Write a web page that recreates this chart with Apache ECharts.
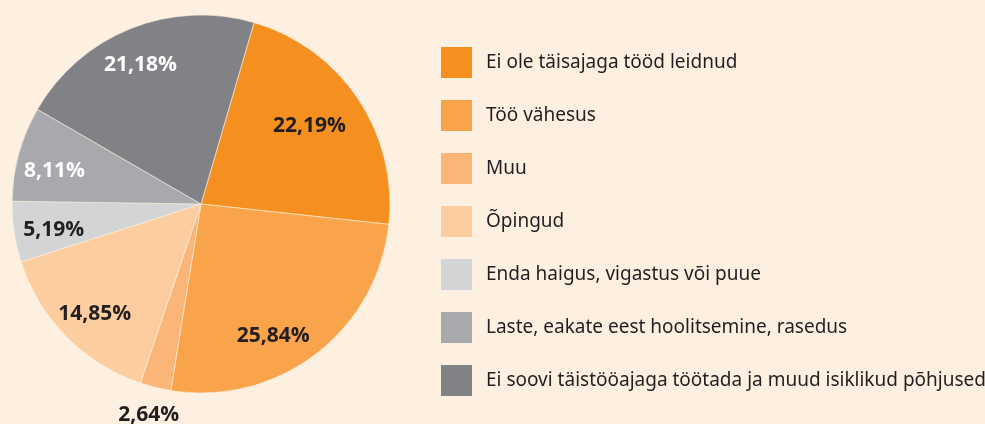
<!DOCTYPE html>
<html>
<head>
<meta charset="utf-8">
<script src="https://cdn.jsdelivr.net/npm/echarts@6/dist/echarts.min.js"></script>
<style>
  html, body { margin: 0; padding: 0; background: #fef0e1; }
  #main { width: 985px; height: 424px; }
</style>
</head>
<body>
<div id="main"></div>
<script>
// põhjused ja osakaalud (%)
var categories = [
  'Ei ole täisajaga tööd leidnud',
  'Töö vähesus',
  'Muu',
  'Õpingud',
  'Enda haigus, vigastus või puue',
  'Laste, eakate eest hoolitsemine, rasedus',
  'Ei soovi täistööajaga töötada ja muud isiklikud põhjused'
];
var shares = [22.19, 25.84, 2.64, 14.85, 5.19, 8.11, 21.18];

var colors = ['#f58f1f', '#f9a44b', '#fbb677', '#fccd9e', '#d3d4d6', '#a7a9ac', '#808285'];
var labelColors = ['#231f20', '#231f20', '#231f20', '#231f20', '#231f20', '#ffffff', '#ffffff'];
// väikesed nihked siltidele (nagu originaalis käsitsi paigutatud)
var labelNudge = [[-18, 6], [-20, 11], [0, 0], [2, 3], [3, 4], [0, 8], [-4, 2]];

function fmt(v) {
  return v.toFixed(2).replace('.', ',') + '%';
}

var center = [201, 204];
var startAngle = 73.7;

var myChart = echarts.init(document.getElementById('main'));

var baseData = categories.map(function (c, i) {
  return { name: c, value: shares[i], itemStyle: { color: colors[i] } };
});
// läbipaistev rõngas siltide jaoks (sildid lõigu sees)
var innerLabels = categories.map(function (c, i) {
  return {
    name: c,
    value: shares[i],
    itemStyle: { color: 'rgba(0,0,0,0)' },
    label: { show: i !== 2, color: labelColors[i] }
  };
});
// väike lõik: silt väljaspool
var outerLabels = categories.map(function (c, i) {
  return {
    name: c,
    value: shares[i],
    itemStyle: { color: 'rgba(0,0,0,0)' },
    label: { show: i === 2, color: labelColors[i] }
  };
});

var labelStyle = {
  position: 'inside',
  fontFamily: 'Open Sans',
  fontWeight: 'bold',
  fontSize: 21,
  formatter: function (p) { return fmt(p.value); }
};

myChart.setOption({
  backgroundColor: '#fef0e1',
  animation: false,
  legend: {
    orient: 'vertical',
    left: 441,
    top: 47,
    padding: 0,
    icon: 'rect',
    itemWidth: 31,
    itemHeight: 31,
    itemGap: 22,
    selectedMode: false,
    data: categories,
    itemStyle: { borderWidth: 0 },
    textStyle: {
      fontFamily: 'Noto Sans',
      fontSize: 19,
      color: '#231f20',
      padding: [0, 0, 0, 9]
    }
  },
  series: [
    {
      name: 'base',
      type: 'pie',
      center: center,
      radius: [0, 189],
      startAngle: startAngle,
      clockwise: true,
      silent: true,
      label: { show: false },
      labelLine: { show: false },
      itemStyle: { borderColor: '#fef0e1', borderWidth: 0.6 },
      data: baseData
    },
    {
      name: 'labels',
      type: 'pie',
      center: center,
      radius: [109, 189],
      startAngle: startAngle,
      clockwise: true,
      silent: true,
      legendHoverLink: false,
      label: labelStyle,
      labelLine: { show: false },
      labelLayout: function (p) {
        var n = labelNudge[p.dataIndex];
        return { dx: n[0], dy: n[1] };
      },
      data: innerLabels
    },
    {
      name: 'outer',
      type: 'pie',
      center: center,
      radius: [200, 228],
      startAngle: startAngle,
      clockwise: true,
      silent: true,
      legendHoverLink: false,
      label: labelStyle,
      labelLine: { show: false },
      data: outerLabels
    }
  ]
});
</script>
</body>
</html>
